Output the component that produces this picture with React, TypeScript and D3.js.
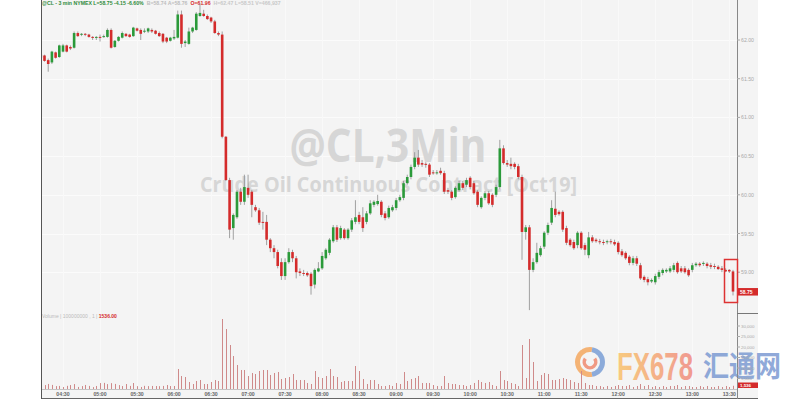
import React from "react";
import * as d3 from "d3";

// ---- data (CL 3-min bars, 2019-09-17, starting 04:12) ----
const startTime = "04:12";
const open = [
  61.81,61.80,61.74,61.71,61.84,61.78,61.85,61.93,61.91,61.90,
  62.09,62.07,62.08,62.07,62.04,62.03,62.04,62.04,62.04,62.13,
  61.91,61.99,62.03,62.08,62.07,62.05,62.15,62.13,62.11,62.11,
  62.13,62.12,62.09,62.08,62.03,61.99,62.02,62.03,62.33,61.96,
  61.95,62.11,62.13,62.31,62.34,62.31,62.29,62.24,62.09,62.07,
  60.75,60.19,59.57,59.71,60.04,59.91,60.09,60.04,59.84,59.80,
  59.65,59.65,59.42,59.31,59.26,59.13,58.95,59.13,59.26,59.18,
  59.01,58.99,58.99,58.98,58.84,59.01,59.05,59.18,59.25,59.40,
  59.58,59.44,59.55,59.44,59.55,59.65,59.74,59.71,59.65,59.76,
  59.87,59.88,59.91,59.76,59.71,59.80,59.83,59.93,59.96,60.15,
  60.23,60.36,60.48,60.41,60.40,60.39,60.29,60.28,60.31,60.28,
  60.06,60.04,59.97,60.06,60.15,60.13,60.22,60.15,60.04,59.84,
  59.96,60.02,60.00,60.00,60.10,60.60,60.41,60.40,60.40,60.37,
  60.23,59.52,59.58,59.03,59.13,59.22,59.33,59.51,59.64,59.82,
  59.78,59.78,59.57,59.42,59.39,59.35,59.51,59.35,59.22,59.45,
  59.42,59.40,59.39,59.39,59.40,59.39,59.38,59.27,59.25,59.20,
  59.12,59.18,59.09,58.94,58.91,58.88,58.87,58.94,58.99,59.01,
  59.01,59.03,59.12,59.05,59.05,59.03,59.03,59.09,59.11,59.11,
  59.11,59.09,59.08,59.07,59.05,59.03,59.03,59.01
];
const high = [
  61.82,61.81,61.76,61.86,61.85,61.94,61.95,61.94,61.93,62.11,
  62.11,62.09,62.09,62.08,62.05,62.05,62.07,62.07,62.15,62.15,
  62.00,62.05,62.11,62.09,62.08,62.17,62.16,62.15,62.15,62.16,
  62.15,62.13,62.11,62.09,62.04,62.04,62.13,62.38,62.38,62.00,
  62.16,62.17,62.36,62.47,62.39,62.33,62.30,62.26,62.11,62.11,
  60.76,60.22,59.76,60.06,60.09,60.26,60.26,60.06,59.87,59.83,
  59.78,59.74,59.44,59.35,59.29,59.18,59.18,59.31,59.29,59.21,
  59.05,59.03,59.01,59.00,59.05,59.13,59.26,59.31,59.44,59.61,
  59.61,59.60,59.57,59.57,59.70,59.93,59.78,59.84,59.79,59.93,
  59.93,60.00,59.93,59.79,59.86,59.87,59.96,60.00,60.18,60.26,
  60.39,60.55,60.58,60.45,60.42,60.41,60.32,60.32,60.35,60.31,
  60.09,60.06,60.11,60.18,60.18,60.22,60.24,60.18,60.06,59.98,
  60.05,60.05,60.02,60.13,60.71,60.64,60.45,60.48,60.42,60.40,
  60.26,59.61,59.61,59.18,59.38,59.34,59.53,59.64,59.93,60.04,
  59.80,59.80,59.60,59.44,59.42,59.53,59.53,59.38,59.52,59.48,
  59.44,59.43,59.42,59.42,59.43,59.42,59.40,59.30,59.27,59.22,
  59.21,59.21,59.12,58.96,58.94,58.92,58.98,59.03,59.05,59.05,
  59.08,59.12,59.14,59.08,59.08,59.05,59.12,59.13,59.13,59.14,
  59.13,59.12,59.11,59.09,59.08,59.05,59.04,59.03
];
const low = [
  61.76,61.72,61.59,61.69,61.76,61.77,61.84,61.84,61.87,61.89,
  62.04,62.05,62.05,62.03,62.00,62.00,61.98,62.03,62.03,61.89,
  61.90,61.98,62.02,62.04,62.03,62.04,62.11,62.00,62.09,62.09,
  62.09,62.07,62.04,61.96,61.96,61.98,62.00,62.02,61.90,61.91,
  61.94,62.09,62.12,62.30,62.30,62.26,62.22,62.08,62.05,60.73,
  60.18,59.44,59.42,59.69,59.87,59.87,59.96,59.71,59.78,59.61,
  59.55,59.35,59.26,59.18,59.05,58.90,58.90,59.11,59.13,58.92,
  58.95,58.95,58.94,58.71,58.79,59.00,59.03,59.16,59.22,59.38,
  59.39,59.42,59.42,59.42,59.52,59.62,59.62,59.52,59.62,59.74,
  59.84,59.86,59.71,59.67,59.69,59.78,59.80,59.91,59.93,60.13,
  60.20,60.33,60.36,60.36,60.35,60.23,60.26,60.26,60.26,60.01,
  60.01,59.93,59.95,60.04,60.06,60.10,60.07,60.00,59.84,59.82,
  59.93,59.87,59.84,59.97,60.07,60.39,60.36,60.33,60.33,60.20,
  59.16,59.42,58.51,59.00,59.11,59.20,59.30,59.48,59.61,59.71,
  59.73,59.52,59.35,59.33,59.29,59.31,59.29,59.22,59.18,59.38,
  59.38,59.36,59.35,59.36,59.36,59.34,59.23,59.20,59.16,59.09,
  59.09,59.08,58.90,58.87,58.83,58.86,58.84,58.91,58.96,58.99,
  58.99,59.00,58.98,58.99,58.98,58.94,59.00,59.07,59.07,59.08,
  59.05,59.04,59.04,59.03,59.00,59.00,58.99,58.70
];
const close = [
  61.77,61.73,61.69,61.85,61.77,61.93,61.93,61.85,61.89,62.09,
  62.05,62.08,62.07,62.04,62.03,62.04,62.03,62.05,62.13,61.90,
  61.99,62.04,62.09,62.05,62.04,62.16,62.12,62.08,62.12,62.15,
  62.11,62.08,62.05,61.98,61.98,62.03,62.04,62.33,61.95,61.98,
  62.11,62.16,62.34,62.35,62.31,62.27,62.24,62.09,62.07,60.75,
  60.19,59.55,59.74,60.04,59.91,60.10,60.00,59.87,59.80,59.64,
  59.64,59.42,59.31,59.26,59.08,58.95,59.13,59.26,59.18,59.00,
  58.99,58.98,58.96,58.82,59.03,59.05,59.21,59.29,59.42,59.58,
  59.42,59.57,59.44,59.55,59.67,59.71,59.65,59.57,59.76,59.89,
  59.91,59.92,59.74,59.70,59.83,59.84,59.93,59.97,60.15,60.23,
  60.36,60.48,60.39,60.39,60.39,60.26,60.28,60.29,60.28,60.04,
  60.04,59.96,60.09,60.15,60.09,60.19,60.10,60.02,59.87,59.96,
  60.02,59.89,59.87,60.10,60.60,60.41,60.39,60.37,60.36,60.23,
  59.52,59.58,59.03,59.13,59.25,59.31,59.51,59.61,59.83,59.74,
  59.75,59.55,59.38,59.35,59.31,59.51,59.31,59.29,59.45,59.40,
  59.40,59.39,59.38,59.40,59.39,59.36,59.26,59.22,59.18,59.12,
  59.18,59.11,58.92,58.90,58.87,58.90,58.95,59.00,59.03,59.03,
  59.05,59.09,59.00,59.01,59.00,58.96,59.09,59.11,59.09,59.12,
  59.08,59.07,59.07,59.04,59.03,59.01,59.01,58.75
];
const volume = [
  1420,1870,2410,1950,1380,1460,940,1510,1880,2350,
  980,1390,1920,1470,910,1440,2830,2910,2330,2790,
  2420,1860,1400,2370,1480,2850,1350,960,1500,1390,
  1450,1420,1360,1470,1890,1410,1440,9520,6190,5710,
  3330,2380,3810,4290,2380,2380,3330,4290,3810,33330,
  28570,20950,15710,11430,9050,9050,6190,7620,7140,8570,
  9050,9050,6670,7620,8100,4760,5240,5710,7140,4290,
  4290,4290,2860,2380,8570,5710,5240,6190,9520,6190,
  5710,3330,3810,3810,3810,10950,8570,4760,2380,4290,
  4290,2380,1430,1430,1900,1430,2860,2380,8100,3810,
  4760,5240,6190,2860,2860,2860,1900,1430,1430,6190,
  2860,2380,2380,1900,1900,1430,1900,2860,4290,3330,
  2860,3330,1900,1430,8570,4290,3810,2860,2380,1430,
  20950,5240,23810,12860,3810,6670,7620,7140,4290,4290,
  4760,5240,4760,4290,3330,2860,8570,2860,1900,1900,
  1430,1430,950,1430,950,1430,1900,1430,1430,1900,
  950,1430,2380,1430,1900,950,1430,950,1430,950,
  1430,1430,1900,950,1430,1430,950,950,1430,950,
  1430,950,950,1430,950,1430,950,1536
];
const priceTicks = [62.0, 61.5, 61.0, 60.5, 60.0, 59.5, 59.0];
const volumeTicks = [30000, 25000, 20000, 15000, 10000, 5000];
const timeTicks = ["04:30","05:00","05:30","06:00","06:30","07:00","07:30","08:00","08:30","09:00",
  "09:30","10:00","10:30","11:00","11:30","12:00","12:30","13:00","13:30"];
const lastPriceLabel = "58.75";
const lastVolumeLabel = "1,536";
const headerGreen = "@CL - 3 min  NYMEX  L=58.75  -4.15  -6.60%";
const headerGray1 = "B=58.74  A=58.76";
const headerRed = "O=61.96";
const headerGray2 = "H=62.47  L=58.51  V=466,937";

const GREEN = "#2b9a3a";
const RED = "#d42b2b";

function toDate(hm: string) {
  const [h, m] = hm.split(":").map(Number);
  return new Date(2019, 8, 17, h, m);
}

export default function App() {
  const t0 = toDate(startTime);
  const times = open.map((_, i) => d3.timeMinute.offset(t0, i * 3));
  const x = d3.scaleTime().domain([t0, times[times.length - 1]]).range([40.8, 733.0]);
  const y = d3.scaleLinear().domain([62, 59]).range([40, 272.2]);
  const yv = d3.scaleLinear().domain([0, 30000]).range([389, 326]);
  const bw = 2.6;
  const left = 41, right = 737;
  const fontSmall = "Liberation Sans, Arial, sans-serif";

  return (
    <svg width={800} height={400} style={{ position: "absolute", left: 0, top: 0, background: "#fff" }}>
      <defs>
        <clipPath id="plot"><rect x={left + 0.5} y={0} width={right - left - 0.5} height={398} /></clipPath>
        <linearGradient id="fxg" x1="0" x2="1" y1="0" y2="0">
          <stop offset="0" stopColor="#f9c36a" />
          <stop offset="1" stopColor="#f08a80" />
        </linearGradient>
      </defs>
      <rect x={0} y={0} width={800} height={400} fill="#fff" />
      <rect x={left} y={0} width={758 - left} height={399} fill="#f4f4f4" />
      {/* faint grid */}
      {priceTicks.map((p) => (
        <line key={"g" + p} x1={left} x2={right} y1={Math.round(y(p)) + 0.5} y2={Math.round(y(p)) + 0.5} stroke="#fbfbfb" />
      ))}
      {timeTicks.map((t) => (
        <line key={"gv" + t} x1={Math.round(x(toDate(t))) + 0.5} x2={Math.round(x(toDate(t))) + 0.5} y1={0} y2={389} stroke="#f9f9f9" />
      ))}

      {/* watermark */}
      <text x={388} y={162} textAnchor="middle" fontFamily="Open Sans, sans-serif" fontWeight={700} fontSize={46}
        fill="#d6d6d6" textLength={197} lengthAdjust="spacingAndGlyphs">@CL,3Min</text>
      <text x={388.5} y={192} textAnchor="middle" fontFamily="Open Sans, sans-serif" fontWeight={700} fontSize={21}
        fill="#d6d6d6" textLength={377} lengthAdjust="spacingAndGlyphs">Crude Oil Continuous Contract [Oct19]</text>

      {/* header */}
      <text x={42} y={5} fontFamily={fontSmall} fontSize={5.2} fontWeight={700}>
        <tspan fill="#2e8b3a">{headerGreen}</tspan>
        <tspan fill="#bdbdbd" dx={3}>{headerGray1}</tspan>
        <tspan fill={RED} dx={3}>{headerRed}</tspan>
        <tspan fill="#c8c8c8" dx={3}>{headerGray2}</tspan>
      </text>

      {/* FX678 logo watermark (behind marks and labels) */}
      <g opacity={0.85}>
        <path d={d3.arc()({ innerRadius: 10, outerRadius: 15, startAngle: Math.PI * 0.95, endAngle: Math.PI * 2.05 }) || ""}
          transform="translate(590,362)" fill="#f4a860" />
        <path d={d3.arc()({ innerRadius: 10, outerRadius: 15, startAngle: Math.PI * 0.05, endAngle: Math.PI * 0.95 }) || ""}
          transform="translate(590,362)" fill="#7b9fd6" />
        <path d={d3.arc()({ innerRadius: 4, outerRadius: 7.5, startAngle: Math.PI * 0.3, endAngle: Math.PI * 1.7 }) || ""}
          transform="translate(590,362)" fill="#f08a70" />
        <text x={617} y={380} fontFamily="Liberation Sans, Arial, sans-serif" fontWeight={700} fontSize={39}
          fill="url(#fxg)" textLength={76} lengthAdjust="spacingAndGlyphs">FX678</text>
        <text x={703} y={377} fontFamily="Noto Sans CJK SC, sans-serif" fontWeight={700} fontSize={29}
          fill="#7d9bd3" textLength={78} lengthAdjust="spacingAndGlyphs">汇通网</text>
      </g>

      <g clipPath="url(#plot)">
        {/* volume */}
        {volume.map((v, i) => {
          const xx = Math.round(x(times[i])) + 0.5;
          return <line key={"v" + i} x1={xx} x2={xx} y1={yv(0)} y2={yv(v)} stroke="#cf8a8a" strokeWidth={1} />;
        })}
        {/* candles */}
        {open.map((o, i) => {
          const c = close[i];
          const xx = x(times[i]);
          const up = c >= o;
          const top = y(Math.max(o, c));
          const bot = y(Math.min(o, c));
          return (
            <g key={"c" + i}>
              <line x1={xx} x2={xx} y1={y(high[i])} y2={y(low[i])} stroke="#8c8c8c" strokeWidth={0.8} />
              <rect x={xx - bw / 2} y={top} width={bw} height={Math.max(1, bot - top)} fill={up ? GREEN : RED} />
            </g>
          );
        })}
      </g>

      {/* volume header */}
      <text x={42} y={317.5} fontFamily={fontSmall} fontSize={5}>
        <tspan fill="#bbb">Volume  |  100000000 , 1  |  </tspan>
        <tspan fill={RED} fontWeight={700}>1536.00</tspan>
      </text>

      {/* baseline / borders */}
      <line x1={left} x2={right} y1={389.5} y2={389.5} stroke="#c4c4c4" />
      <line x1={left} x2={758} y1={398.5} y2={398.5} stroke="#666" />
      <line x1={left + 0.5} x2={left + 0.5} y1={0} y2={399} stroke="#555" />
      <line x1={right + 0.5} x2={right + 0.5} y1={0} y2={399} stroke="#888" />
      <line x1={right} x2={758} y1={313.5} y2={313.5} stroke="#777" />

      {/* price axis */}
      {priceTicks.map((p) => (
        <g key={"pt" + p}>
          <line x1={right} x2={right + 3} y1={y(p)} y2={y(p)} stroke="#aaa" />
          <text x={741} y={y(p) + 2} fontFamily={fontSmall} fontSize={5.2} fill="#aaa">{p.toFixed(2)}</text>
        </g>
      ))}
      {/* volume axis */}
      {volumeTicks.map((v) => (
        <g key={"vt" + v}>
          <line x1={right} x2={right + 3} y1={yv(v)} y2={yv(v)} stroke="#aaa" />
          <text x={741} y={yv(v) + 1.6} fontFamily={fontSmall} fontSize={4.4} fill="#aaa">{d3.format(",")(v)}</text>
        </g>
      ))}
      {/* last price label */}
      <rect x={738} y={y(close[close.length - 1]) - 3.5} width={20} height={7.5} fill={RED} />
      <text x={740} y={y(close[close.length - 1]) + 2} fontFamily={fontSmall} fontSize={5} fontWeight={700} fill="#fff">{lastPriceLabel}</text>
      {/* last volume label */}
      <rect x={738} y={382.5} width={20} height={5.5} fill={RED} />
      <text x={740} y={386.8} fontFamily={fontSmall} fontSize={4.4} fontWeight={700} fill="#fff">{lastVolumeLabel}</text>

      {/* red box around last bar */}
      <rect x={724.5} y={259.5} width={13} height={43} fill="none" stroke="#d33" strokeWidth={1.5} />

      {/* time axis */}
      {timeTicks.map((t) => (
        <text key={"tt" + t} x={x(toDate(t))} y={396} textAnchor="middle" fontFamily={fontSmall} fontSize={5.2} fontWeight={700} fill="#666">{t}</text>
      ))}
    </svg>
  );
}
